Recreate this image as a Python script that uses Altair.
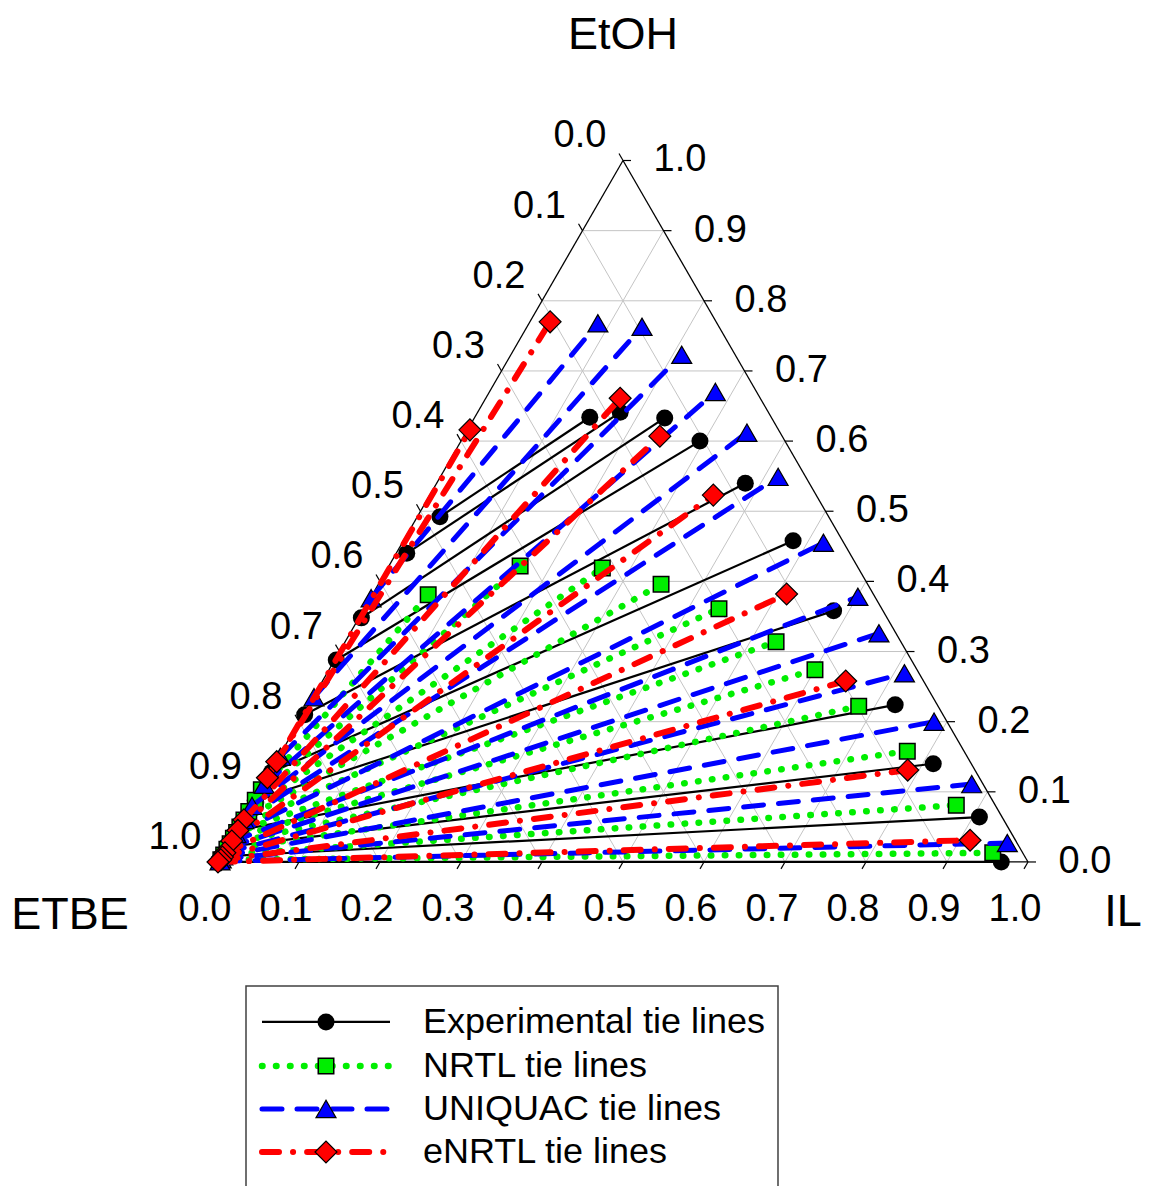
import altair as alt
import pandas as pd
import numpy as np

H = np.sqrt(3) / 2

# ---------------- data (mass fractions) ----------------
# each tie line: ETBE-rich end (left) and IL-rich end (right); values are (IL, EtOH)
exp_left_il = [0.028, 0.013, 0.003, 0.002, 0.002, 0.002, 0.002, 0.002, 0.002, 0.002, 0.002]
exp_left_etoh = [0.492, 0.440, 0.348, 0.288, 0.210, 0.128, 0.088, 0.045, 0.022, 0.008, 0.000]
exp_right_il = [0.142, 0.176, 0.235, 0.295, 0.381, 0.481, 0.581, 0.724, 0.813, 0.908, 0.967]
exp_right_etoh = [0.634, 0.641, 0.633, 0.600, 0.540, 0.458, 0.358, 0.224, 0.140, 0.064, 0.000]

nrtl_left_il = [0.002, 0.002, 0.002, 0.002, 0.002, 0.002, 0.002, 0.002, 0.002, 0.002, 0.002]
nrtl_left_etoh = [0.103, 0.088, 0.072, 0.060, 0.050, 0.042, 0.034, 0.026, 0.018, 0.010, 0.003]
nrtl_right_il = [0.069, 0.162, 0.265, 0.349, 0.438, 0.532, 0.600, 0.680, 0.772, 0.871, 0.950]
nrtl_right_etoh = [0.381, 0.422, 0.419, 0.396, 0.361, 0.314, 0.274, 0.222, 0.158, 0.081, 0.013]

uniq_left_il = [0.001, 0.001, 0.002, 0.002, 0.002, 0.002, 0.002, 0.002, 0.002, 0.002, 0.002, 0.002, 0.002]
uniq_left_etoh = [0.376, 0.235, 0.150, 0.110, 0.080, 0.060, 0.040, 0.028, 0.020, 0.013, 0.008, 0.004, 0.001]
uniq_right_il = [0.085, 0.142, 0.211, 0.279, 0.347, 0.417, 0.520, 0.601, 0.653, 0.713, 0.784, 0.875, 0.961]
uniq_right_etoh = [0.768, 0.763, 0.723, 0.670, 0.612, 0.549, 0.455, 0.378, 0.326, 0.269, 0.200, 0.111, 0.027]

enrtl_left_il = [0.001, 0.001, 0.002, 0.002, 0.002, 0.002, 0.002, 0.002, 0.000]
enrtl_left_etoh = [0.143, 0.120, 0.060, 0.045, 0.030, 0.013, 0.007, 0.003, 0.000]
enrtl_right_il = [0.025, 0.003, 0.166, 0.242, 0.350, 0.511, 0.646, 0.786, 0.913]
enrtl_right_etoh = [0.770, 0.616, 0.661, 0.607, 0.523, 0.382, 0.258, 0.131, 0.031]

tick_values = [0.0, 0.1, 0.2, 0.3, 0.4, 0.5, 0.6, 0.7, 0.8, 0.9, 1.0]
tick_labels = ["0.0", "0.1", "0.2", "0.3", "0.4", "0.5", "0.6", "0.7", "0.8", "0.9", "1.0"]
legend_labels = ["Experimental tie lines", "NRTL tie lines", "UNIQUAC tie lines", "eNRTL tie lines"]
axis_titles = ["EtOH", "ETBE", "IL"]

FONT = "Liberation Sans"
PX = 1 / 810.0  # one pixel in data units


def tx(il, etoh):
    return il + etoh / 2.0, etoh * H


def tie_frame(lil, let, ril, ret):
    rows = []
    for i in range(len(lil)):
        for end, (a, b) in enumerate([(lil[i], let[i]), (ril[i], ret[i])]):
            X, Y = tx(a, b)
            rows.append({"line": i, "end": end, "X": X, "Y": Y})
    return pd.DataFrame(rows)


xs = alt.Scale(domain=[0, 1], nice=False, zero=False)
ys = alt.Scale(domain=[0, H], nice=False, zero=False)


def X(f="X"):
    return alt.X(f"{f}:Q", scale=xs, axis=None)


def Y(f="Y"):
    return alt.Y(f"{f}:Q", scale=ys, axis=None)


layers = []

# ---------------- grid ----------------
grid = []
for v in tick_values[1:-1]:
    x1, y1 = tx(0, v); x2, y2 = tx(1 - v, v)          # constant EtOH
    grid.append({"X": x1, "Y": y1, "X2": x2, "Y2": y2})
    x1, y1 = tx(v, 0); x2, y2 = tx(v, 1 - v)          # constant IL
    grid.append({"X": x1, "Y": y1, "X2": x2, "Y2": y2})
    x1, y1 = tx(1 - v, 0); x2, y2 = tx(0, 1 - v)      # constant ETBE
    grid.append({"X": x1, "Y": y1, "X2": x2, "Y2": y2})
grid_df = pd.DataFrame(grid)
layers.append(alt.Chart(grid_df).mark_rule(color="#c4c4c4", strokeWidth=1).encode(
    x=X(), y=Y(), x2="X2:Q", y2="Y2:Q"))

# ---------------- triangle edges ----------------
corners = [tx(0, 0), tx(1, 0), tx(0, 1)]
edges = pd.DataFrame([
    {"X": corners[i][0], "Y": corners[i][1], "X2": corners[(i + 1) % 3][0], "Y2": corners[(i + 1) % 3][1]}
    for i in range(3)])
layers.append(alt.Chart(edges).mark_rule(color="black", strokeWidth=1.3).encode(
    x=X(), y=Y(), x2="X2:Q", y2="Y2:Q"))

# ---------------- ticks & labels ----------------
t = 8 * PX
ticks, labels = [], []
for v, lab in zip(tick_values, tick_labels):
    # left edge: ETBE fraction
    px_, py_ = tx(0, 1 - v)
    ticks.append({"X": px_, "Y": py_, "X2": px_ - 0.5 * t, "Y2": py_ + H * t})
    labels.append({"X": px_ - 43 * PX, "Y": py_ + 24 * PX, "t": lab})
    # right edge: EtOH fraction
    px_, py_ = tx(1 - v, v)
    ticks.append({"X": px_, "Y": py_, "X2": px_ + t, "Y2": py_})
    labels.append({"X": px_ + 57 * PX, "Y": py_, "t": lab})
    # bottom edge: IL fraction
    px_, py_ = tx(v, 0)
    ticks.append({"X": px_, "Y": py_, "X2": px_ - 0.5 * t, "Y2": py_ - H * t})
    labels.append({"X": px_ - 13 * PX, "Y": py_ - 48 * PX, "t": lab})
ticks_df = pd.DataFrame(ticks)
labels_df = pd.DataFrame(labels)

layers.append(alt.Chart(ticks_df).mark_rule(color="black", strokeWidth=1.2).encode(
    x=X(), y=Y(), x2="X2:Q", y2="Y2:Q"))
layers.append(alt.Chart(labels_df).mark_text(font=FONT, fontSize=38, color="black",
                                             align="center", baseline="middle").encode(
    x=X(), y=Y(), text="t:N"))

titles_df = pd.DataFrame({
    "t": axis_titles,
    "X": [0.5, -0.1827, (1123 - 218) * PX],
    "Y": [1.021, -0.0654, -0.0617]})
layers.append(alt.Chart(titles_df).mark_text(font=FONT, fontSize=45, color="black",
                                             align="center", baseline="middle").encode(
    x=X(), y=Y(), text="t:N"))

# ---------------- series ----------------
styles = [
    dict(df=tie_frame(exp_left_il, exp_left_etoh, exp_right_il, exp_right_etoh),
         line=dict(color="black", strokeWidth=2.2),
         point=dict(shape="circle", filled=True, color="black", size=290, opacity=1)),
    dict(df=tie_frame(nrtl_left_il, nrtl_left_etoh, nrtl_right_il, nrtl_right_etoh),
         line=dict(color="#00ee00", strokeWidth=6.5, strokeDash=[0.5, 13.5], strokeCap="round"),
         point=dict(shape="square", filled=True, fill="#00ee00", stroke="black", strokeWidth=1.5,
                    size=240, opacity=1)),
    dict(df=tie_frame(uniq_left_il, uniq_left_etoh, uniq_right_il, uniq_right_etoh),
         line=dict(color="#0000ff", strokeWidth=5, strokeDash=[20, 15], strokeCap="round"),
         point=dict(shape="triangle-up", filled=True, fill="#0000ff", stroke="black", strokeWidth=1.2,
                    size=400, opacity=1)),
    dict(df=tie_frame(enrtl_left_il, enrtl_left_etoh, enrtl_right_il, enrtl_right_etoh),
         line=dict(color="#ff0000", strokeWidth=6, strokeDash=[17, 14, 0.1, 14], strokeCap="round"),
         point=dict(shape="diamond", filled=True, fill="#ff0000", stroke="black", strokeWidth=1.2,
                    size=480, opacity=1)),
]

for s in styles:
    base = alt.Chart(s["df"])
    layers.append(base.mark_line(**s["line"]).encode(
        x=X(), y=Y(), detail="line:N", order="end:O"))
    layers.append(base.mark_point(**s["point"]).encode(x=X(), y=Y()))

# ---------------- legend (drawn) ----------------
leg_rows_y = [(862 - p) * PX for p in [1022, 1066, 1109, 1152]]
box_df = pd.DataFrame({"X": [(246 - 218) * PX], "X2": [(778 - 218) * PX],
                       "Y": [(862 - 986) * PX], "Y2": [(862 - 1210) * PX]})
layers.append(alt.Chart(box_df).mark_rect(fill="white", stroke="#404040", strokeWidth=1.5).encode(
    x=X(), y=Y(), x2="X2:Q", y2="Y2:Q"))

lx1, lx2, lxm, ltx = (262 - 218) * PX, (390 - 218) * PX, (326 - 218) * PX, (423 - 218) * PX
for s, yy in zip(styles, leg_rows_y):
    ldf = pd.DataFrame({"X": [lx1, lx2], "Y": [yy, yy], "end": [0, 1]})
    layers.append(alt.Chart(ldf).mark_line(**s["line"]).encode(x=X(), y=Y(), order="end:O"))
    mdf = pd.DataFrame({"X": [lxm], "Y": [yy]})
    layers.append(alt.Chart(mdf).mark_point(**s["point"]).encode(x=X(), y=Y()))

leg_text_df = pd.DataFrame({"t": legend_labels, "X": [ltx] * 4, "Y": leg_rows_y})
layers.append(alt.Chart(leg_text_df).mark_text(font=FONT, fontSize=36, color="black",
                                               align="left", baseline="middle").encode(
    x=X(), y=Y(), text="t:N"))

chart = alt.layer(*layers).properties(
    width=810, height=float(810 * H),
    autosize=alt.AutoSizeParams(type="none"),
    padding={"left": 210, "top": 152.5, "right": 115, "bottom": 324},
).configure_view(strokeWidth=0)

chart.save("out.html", embed_options={"renderer": "svg", "actions": False})
